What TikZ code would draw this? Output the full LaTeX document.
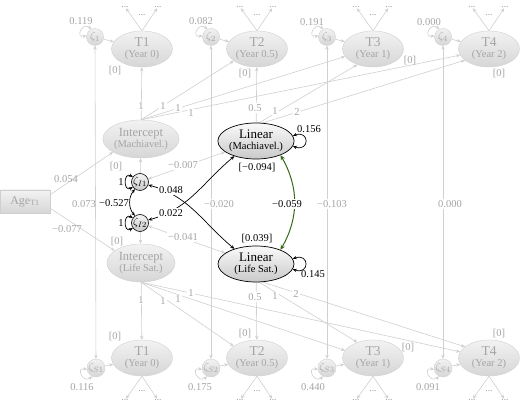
\documentclass[tikz,border=0pt]{standalone}
\usepackage{fontspec}
\setmainfont{Liberation Serif}
\usetikzlibrary{arrows.meta,shapes.geometric}
\pgfdeclarelayer{bgw}
\pgfdeclarelayer{lines}
\pgfsetlayers{bgw,lines,main}
\definecolor{gtx}{RGB}{165,165,165}
\definecolor{gln}{RGB}{208,208,208}
\definecolor{gfT}{RGB}{242,242,242}
\definecolor{gfB}{RGB}{214,214,214}
\definecolor{grn}{RGB}{55,105,25}
\definecolor{grnL}{RGB}{135,185,75}
\newcommand\fbig{\fontsize{13.5}{14}\selectfont}
\newcommand\fmidl{\fontsize{12.5}{13}\selectfont}
\newcommand\flin{\fontsize{13}{13}\selectfont}
\newcommand\fsm{\fontsize{10.5}{11}\selectfont}
\newcommand\fzeta{\fontsize{11}{11}\selectfont}
\begin{document}
\begin{tikzpicture}[x=1pt,y=1pt,
  >={Stealth[length=4pt,width=3.4pt]},
  gell/.style={ellipse,minimum width=61pt,minimum height=36pt,inner sep=0pt,
    top color=gfT,bottom color=gfB,draw=gln,line width=0.4pt,text=gtx,align=center,font=\fsm},
  iell/.style={gell,minimum width=68pt,minimum height=38pt},
  lell/.style={ellipse,minimum width=76pt,minimum height=36pt,inner sep=0pt,
    top color=gray!4,bottom color=gray!42,draw=black,line width=0.7pt,align=center,font=\fsm},
  gz/.style={circle,minimum size=17pt,inner sep=0pt,top color=gfT,bottom color=gfB,
    draw=gln,text=gtx,font=\fzeta},
  bz/.style={circle,minimum size=17pt,inner sep=0pt,top color=gray!8,bottom color=gray!42,
    draw=black,line width=0.6pt,font=\fzeta},
  gbox/.style={rectangle,minimum width=50pt,minimum height=23pt,inner sep=0pt,
    top color=gfT,bottom color=gfB,draw=gln,text=gtx,font=\fontsize{12}{12}\selectfont},
  gl/.style={draw=gln,line width=0.6pt,->},
  gcov/.style={draw=gln,line width=0.6pt,<->},
  bcov/.style={draw=black,line width=0.7pt,<->},
  grcov/.style={draw=grn,line width=1pt,{Stealth[length=5pt,width=4.5pt,fill=grnL]}-{Stealth[length=5pt,width=4.5pt,fill=grnL]}},
  glab/.style={text=gtx,font=\fsm,inner sep=1pt},
  blab/.style={text=black,font=\fsm,inner sep=1pt},
  dots/.style={text=gtx!90!black,font=\fontsize{9.5}{9.5}\selectfont,inner sep=0.5pt}
]
\useasboundingbox (0,0) rectangle (520,407);
\begin{pgfonlayer}{bgw}
\fill[white] (0,0) rectangle (520,407);
\end{pgfonlayer}

% ---------- top row ----------
\node[gell] (T1) at (142,358) {{\fbig T1}\\(Year 0)};
\node[gell] (T2) at (257,358) {{\fbig T2}\\(Year 0.5)};
\node[gell] (T3) at (373,358) {{\fbig T3}\\(Year 1)};
\node[gell] (T4) at (489,358) {{\fbig T4}\\(Year 2)};
\node[gz] (z1) at (95,370) {$\zeta_{1}$};
\node[gz] (z2) at (211,370) {$\zeta_{2}$};
\node[gz] (z3) at (327,370) {$\zeta_{3}$};
\node[gz] (z4) at (443,370) {$\zeta_{4}$};
\node[glab] at (81,386) {0.119};
\node[glab] at (201,386) {0.082};
\node[glab] at (312,385) {0.191};
\node[glab] at (429,385) {0.000};
\node[glab] at (115,336) {[0]};
\node[glab] at (245,333) {[0]};
\node[glab] at (410,346) {[0]};
\node[glab] at (499,333) {[0]};
\foreach \n/\cx in {1/142,2/257,3/373,4/489}{
  \node[dots] (da\n) at (\cx-17,400) {...};
  \node[dots] (db\n) at (\cx+16,400) {...};
  \node[dots] (dm\n) at (\cx,392) {...};
}

% ---------- bottom row ----------
\node[gell] (T5) at (142,49) {{\fbig T1}\\(Year 0)};
\node[gell] (T6) at (257,49) {{\fbig T2}\\(Year 0.5)};
\node[gell] (T7) at (373,49) {{\fbig T3}\\(Year 1)};
\node[gell] (T8) at (489,49) {{\fbig T4}\\(Year 2)};
\node[gz] (z5) at (96,39) {$\zeta_{S1}$};
\node[gz] (z6) at (211,39) {$\zeta_{S2}$};
\node[gz] (z7) at (327,39) {$\zeta_{S3}$};
\node[gz] (z8) at (443,39) {$\zeta_{S4}$};
\node[glab] at (82,20) {0.116};
\node[glab] at (200,20) {0.175};
\node[glab] at (313,20) {0.440};
\node[glab] at (428,20) {0.091};
\node[glab] at (115,70) {[0]};
\node[glab] at (245,73) {[0]};
\node[glab] at (408,59) {[0]};
\node[glab] at (499,73) {[0]};
\foreach \n/\cx in {5/142,6/257,7/373,8/489}{
  \node[dots] (da\n) at (\cx-17,7) {...};
  \node[dots] (db\n) at (\cx+16,7) {...};
  \node[dots] (dm\n) at (\cx,16) {...};
}

% ---------- middle ----------
\node[gbox] (age) at (25,205.5) {Age\textsubscript{T1}};
\node[iell] (IM) at (141,268) {{\fmidl Intercept}\\(Machiavel.)};
\node[iell] (IL) at (141,144) {{\fmidl Intercept}\\(Life Sat.)};
\node[bz] (zi1) at (140,225) {$\zeta_{I1}$};
\node[bz] (zi2) at (140,184) {$\zeta_{I2}$};
\node[lell] (Lm) at (256,266) {{\flin Linear}\\(Machiavel.)};
\node[lell] (Ll) at (256,143) {{\flin Linear}\\(Life Sat.)};

% ---------- connectors ----------
\begin{pgfonlayer}{lines}
\draw[gcov] (z1) -- (z5);
\draw[gcov] (z2) -- (z6);
\draw[gcov] (z3) -- (z7);
\draw[gcov] (z4) -- (z8);
\foreach \a/\b in {z1/T1,z2/T2,z3/T3,z4/T4,z5/T5,z6/T6,z7/T7,z8/T8}{
  \draw[gl] (\a) -- (\b);
}
\foreach \z in {z1,z2,z3,z4}{
  \draw[gcov] (\z.115) .. controls +(140:12) and +(195:12) .. (\z.170);
}
\foreach \z in {z5,z6,z7,z8}{
  \draw[gcov] (\z.190) .. controls +(165:12) and +(220:12) .. (\z.245);
}
\foreach \n in {1,2,3,4}{
  \draw[gl] (T\n.north) -- (da\n);
  \draw[gl] (T\n.north) -- (db\n);
}
\foreach \n in {5,6,7,8}{
  \draw[gl] (T\n.south) -- (da\n);
  \draw[gl] (T\n.south) -- (db\n);
}
\draw[gl] (IM) -- (T1);
\draw[gl] (IM.north) -- (T2.207);
\draw[gl] (IM.north) -- (T3.195);
\draw[gl] (IM.north) -- (T4.192);
\draw[gl] (Lm) -- (T2);
\draw[gl] (Lm.80) -- (T3.225);
\draw[gl] (Lm.70) -- (T4.205);
\draw[gl] (IL) -- (T5);
\draw[gl] (IL.south) -- (T6.153);
\draw[gl] (IL.south) -- (T7.165);
\draw[gl] (IL.south) -- (T8.168);
\draw[gl] (Ll) -- (T6);
\draw[gl] (Ll.-80) -- (T7.135);
\draw[gl] (Ll.-70) -- (T8.155);
\draw[gl] (age.15) -- (IM.205);
\draw[gl] (age.-15) -- (IL.155);
\draw[gl] (zi1) -- (IM);
\draw[gl] (zi2) -- (IL);
\draw[gcov] (zi1) -- (Lm);
\draw[gcov] (zi2) -- (Ll);
\draw[bcov] (zi1.-20) to[out=-15,in=140] (Ll.145);
\draw[bcov] (zi2.20) to[out=15,in=-140] (Lm.215);
\draw[bcov] (zi1.235) to[bend right=40] (zi2.125);
\draw[bcov] (zi1.145) .. controls +(150:11) and +(210:11) .. (zi1.215);
\draw[bcov] (zi2.145) .. controls +(150:11) and +(210:11) .. (zi2.215);
\draw[bcov] (Lm.8) .. controls +(20:18) and +(-20:18) .. (Lm.-8);
\draw[bcov] (Ll.8) .. controls +(20:18) and +(-20:18) .. (Ll.-8);
\draw[grcov] (Lm.-30) to[bend left=30] (Ll.30);
\end{pgfonlayer}

% ---------- labels ----------
\node[glab] at (84,203) {0.073};
\node[glab,fill=white] at (219,203) {−0.020};
\node[glab,fill=white] at (332,203) {−0.103};
\node[glab,fill=white] at (450,203) {0.000};
\node[glab] at (66,228) {0.054};
\node[glab] at (67,178) {−0.077};
\node[glab] at (116,240) {[0]};
\node[glab] at (117,165) {[0]};
\node[glab,fill=white] at (183,242) {−0.007};
\node[glab,fill=white] at (183,170) {−0.041};
\node[blab,fill=white] at (171,217) {0.048};
\node[blab,fill=white] at (171,194) {0.022};
\node[blab] at (114,204) {−0.527};
\node[blab] at (121,225) {1};
\node[blab] at (121,184) {1};
\node[blab,fill=white] at (287,203) {−0.059};
\node[blab] at (257,239) {[−0.094]};
\node[blab] at (257,168) {[0.039]};
\node[blab] at (309,278) {0.156};
\node[blab] at (313,133) {0.145};
\node[glab,fill=white] at (141,301) {1};
\node[glab,fill=white] at (163,301) {1};
\node[glab,fill=white] at (178,299) {1};
\node[glab,fill=white] at (191,294) {1};
\node[glab,fill=white] at (255,299) {0.5};
\node[glab,fill=white] at (275,296) {1};
\node[glab,fill=white] at (297,295) {2};
\node[glab,fill=white] at (141,107) {1};
\node[glab,fill=white] at (163,106) {1};
\node[glab,fill=white] at (178,108) {1};
\node[glab,fill=white] at (191,114) {1};
\node[glab,fill=white] at (255,110) {0.5};
\node[glab,fill=white] at (275,111) {1};
\node[glab,fill=white] at (296,113) {2};
\end{tikzpicture}
\end{document}
